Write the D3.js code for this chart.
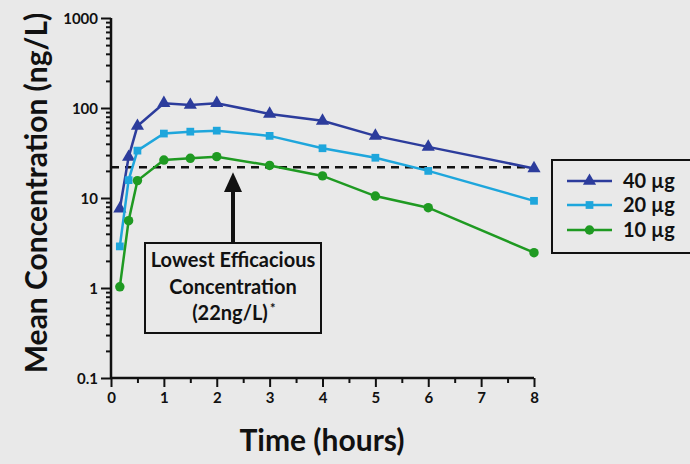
<!DOCTYPE html>
<html>
<head>
<meta charset="utf-8">
<script src="https://cdn.jsdelivr.net/npm/d3@7"></script>
<style>
  body { margin: 0; background: #e9e9e9; }
  svg { display: block; }
  text { font-family: Lato, "Open Sans", sans-serif; font-weight: bold; fill: #111; }
</style>
</head>
<body>
<svg width="690" height="464"></svg>
<script>
// sampling times (hours)
const times = [0.167, 0.333, 0.5, 1, 1.5, 2, 3, 4, 5, 6, 8];
// mean concentration (ng/L) per dose
const dose40 = [7.6, 28.5, 63, 113, 108, 113, 86, 72, 49, 37, 21.3];
const dose20 = [2.9, 15.8, 33.6, 52, 54.6, 56, 49, 35.7, 28, 20, 9.3];
const dose10 = [1.03, 5.6, 15.6, 26.4, 27.6, 28.8, 23, 17.6, 10.5, 7.8, 2.47];
const seriesNames = ["40 µg", "20 µg", "10 µg"];
const seriesColors = ["#2c3c9c", "#1ea6dc", "#1f9a22"];
const seriesSymbols = [d3.symbolTriangle, d3.symbolSquare, d3.symbolCircle];
const yTicks = [0.1, 1, 10, 100, 1000];
const xTicks = [0, 1, 2, 3, 4, 5, 6, 7, 8];
const threshold = 22;

const svg = d3.select("svg");
const x = d3.scaleLinear().domain([0, 8]).range([111, 534]);
const y = d3.scaleLog().domain([0.1, 1000]).range([378, 18]);

// minor ticks
const minor = [];
for (let e = -1; e < 3; e++) for (let m = 2; m < 10; m++) minor.push(m * Math.pow(10, e));

const yAxis = svg.append("g").attr("transform", "translate(111,0)");
yAxis.call(d3.axisLeft(y).tickValues(minor).tickSize(5).tickFormat(""));
yAxis.call(g => g.select(".domain").remove());
const yMaj = svg.append("g").attr("transform", "translate(111,0)")
  .call(d3.axisLeft(y).tickValues(yTicks).tickSize(10).tickPadding(3).tickFormat(d => d < 1 ? "0.1" : d3.format("d")(d)));
yMaj.selectAll("text").style("font-size", "15px").attr("dy", "0.35em");

const xAxis = svg.append("g").attr("transform", "translate(0,378)");
xAxis.call(d3.axisBottom(x).tickValues(d3.range(0.5, 8, 1)).tickSize(5).tickFormat(""));
xAxis.call(g => g.select(".domain").remove());
const xMaj = svg.append("g").attr("transform", "translate(0,378)")
  .call(d3.axisBottom(x).tickValues(xTicks).tickSize(9).tickPadding(5).tickFormat(d3.format("d")));
xMaj.selectAll("text").style("font-size", "15px");

svg.selectAll(".tick line, .domain").attr("stroke", "#111").attr("stroke-width", 2);
svg.selectAll(".domain").attr("stroke-width", 2.5);
xMaj.select(".domain").attr("d", `M${x(0)},0H${x(8)}`);
yMaj.select(".domain").attr("d", `M0,${y(0.1)}V${y(1000)}`);

// threshold line
svg.append("line")
  .attr("x1", x(0)).attr("x2", x(8))
  .attr("y1", y(threshold)).attr("y2", y(threshold))
  .attr("stroke", "#111").attr("stroke-width", 2.5)
  .attr("stroke-dasharray", "8,6");

// series
const allSeries = [dose40, dose20, dose10];
const line = d3.line().x((d, i) => x(times[i])).y(d => y(d));
const sizes = [75, 60, 70];
allSeries.forEach((vals, k) => {
  svg.append("path").datum(vals)
    .attr("d", line).attr("fill", "none")
    .attr("stroke", seriesColors[k]).attr("stroke-width", 2.5);
  svg.append("g").selectAll("path").data(vals).join("path")
    .attr("transform", (d, i) => `translate(${x(times[i])},${y(d)})`)
    .attr("d", d3.symbol(seriesSymbols[k], sizes[k]))
    .attr("fill", seriesColors[k]);
});

// annotation arrow
const ax = 233;
svg.append("line").attr("x1", ax).attr("x2", ax).attr("y1", 243).attr("y2", 188)
  .attr("stroke", "#111").attr("stroke-width", 4);
svg.append("path")
  .attr("d", `M${ax},${y(threshold) + 5}L${ax - 9},192L${ax + 9},192Z`)
  .attr("fill", "#111");

// annotation box
svg.append("rect").attr("x", 145).attr("y", 243).attr("width", 176).attr("height", 90)
  .attr("fill", "none").attr("stroke", "#111").attr("stroke-width", 2);
const boxText = svg.append("text").attr("text-anchor", "middle").style("font-size", "20px");
boxText.append("tspan").attr("x", 233).attr("y", 267).text("Lowest Efficacious");
boxText.append("tspan").attr("x", 233).attr("y", 294).text("Concentration");
svg.append("text").attr("x", 230).attr("y", 320).attr("text-anchor", "middle")
  .style("font-size", "20px").text("(22ng/L)");
svg.append("text").attr("x", 270).attr("y", 313).style("font-size", "13px").text("*");

// legend
const legend = svg.append("g");
legend.append("rect").attr("x", 552).attr("y", 160).attr("width", 150).attr("height", 93)
  .attr("fill", "none").attr("stroke", "#111").attr("stroke-width", 2);
const legY = [181, 205, 230];
seriesNames.forEach((name, k) => {
  legend.append("line").attr("x1", 567).attr("x2", 612).attr("y1", legY[k]).attr("y2", legY[k])
    .attr("stroke", seriesColors[k]).attr("stroke-width", 2.5);
  legend.append("path").attr("transform", `translate(589.5,${legY[k]})`)
    .attr("d", d3.symbol(seriesSymbols[k], sizes[k])).attr("fill", seriesColors[k]);
  legend.append("text").attr("x", 623).attr("y", legY[k]).attr("dy", "0.35em")
    .style("font-size", "20px").text(name);
});

// axis titles
svg.append("text").attr("transform", "translate(47,193) rotate(-90)")
  .attr("text-anchor", "middle").style("font-size", "30px").text("Mean Concentration (ng/L)");
svg.append("text").attr("x", 322).attr("y", 451)
  .attr("text-anchor", "middle").style("font-size", "30px").text("Time (hours)");
</script>
</body>
</html>
